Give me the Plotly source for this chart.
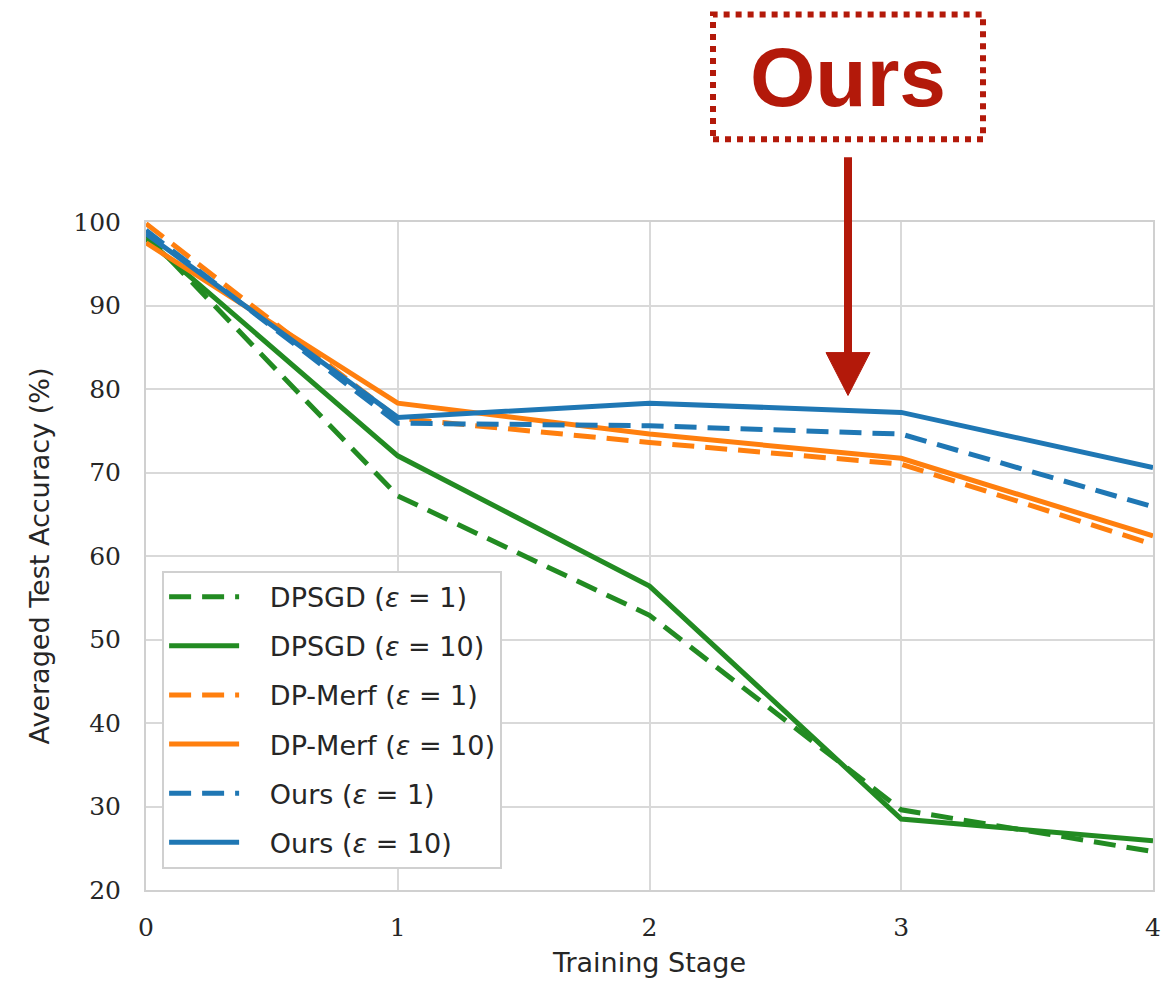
import plotly.graph_objects as go

stages = [0, 1, 2, 3, 4]
dpsgd_e1 = [98.5, 67.2, 52.9, 29.6, 24.6]
dpsgd_e10 = [98.0, 72.0, 56.4, 28.5, 25.9]
merf_e1 = [99.8, 76.5, 73.6, 71.0, 61.4]
merf_e10 = [97.5, 78.3, 74.6, 71.7, 62.4]
ours_e1 = [99.0, 75.9, 75.6, 74.6, 65.9]
ours_e10 = [98.6, 76.6, 78.3, 77.2, 70.6]

pad = "&nbsp;&nbsp;&nbsp;"
series = [
    (pad + "DPSGD (<i>ε</i> = 1)", dpsgd_e1, "#228b22", "22px,11px"),
    (pad + "DPSGD (<i>ε</i> = 10)", dpsgd_e10, "#228b22", "solid"),
    (pad + "DP-Merf (<i>ε</i> = 1)", merf_e1, "#ff7f0e", "22px,11px"),
    (pad + "DP-Merf (<i>ε</i> = 10)", merf_e10, "#ff7f0e", "solid"),
    (pad + "Ours (<i>ε</i> = 1)", ours_e1, "#1f77b4", "22px,11px"),
    (pad + "Ours (<i>ε</i> = 10)", ours_e10, "#1f77b4", "solid"),
]

fig = go.Figure()
for i, (name, vals, color, dash) in enumerate(series):
    fig.add_trace(go.Scatter(
        x=stages, y=vals, mode="lines", name=name,
        line=dict(color=color, width=5, dash=dash),
        legendgroup=f"g{i}",
    ))

W, H = 1174, 985
L, R, T, B = 146, 21, 222, 93
pw, ph = W - L - R, H - T - B

def px(xp):
    return (xp - L) / pw

def py(yp):
    return (H - B - yp) / ph

red = "#b3190a"
shapes = [
    dict(type="rect", xref="paper", yref="paper",
         x0=px(713), x1=px(983), y0=py(139), y1=py(14),
         line=dict(color=red, width=6, dash="dot"), layer="above"),
    dict(type="line", xref="paper", yref="paper",
         x0=px(848), x1=px(848), y0=py(157), y1=py(356),
         line=dict(color=red, width=8), layer="above"),
    dict(type="path", xref="paper", yref="paper",
         path=f"M {px(826)} {py(353)} L {px(870)} {py(353)} L {px(848)} {py(396)} Z",
         fillcolor=red, line=dict(color=red, width=1), layer="above"),
]

fig.update_layout(
    width=W, height=H,
    margin=dict(l=L, r=R, t=T, b=B),
    paper_bgcolor="white", plot_bgcolor="white",
    showlegend=True,
    legend=dict(
        x=0.016, y=0.478, xanchor="left", yanchor="top",
        bgcolor="white", bordercolor="#d0d0d0", borderwidth=2,
        font=dict(family="DejaVu Sans", size=27, color="#262626"),
        tracegroupgap=11, itemwidth=70,
    ),
    shapes=shapes,
    annotations=[dict(
        xref="paper", yref="paper", x=px(848), y=py(77),
        text="<b>Ours</b>", showarrow=False,
        font=dict(family="Liberation Sans", size=84, color=red),
        xanchor="center", yanchor="middle",
    )],
    xaxis=dict(
        range=[0, 4], tickvals=[0, 1, 2, 3, 4],
        showgrid=True, gridcolor="#d9d9d9", gridwidth=2,
        showline=True, linecolor="#d0d0d0", linewidth=2, mirror=True,
        zeroline=False, ticks="", ticklabelstandoff=14,
        tickfont=dict(family="DejaVu Serif", size=25, color="#262626"),
        title=dict(text="Training Stage", standoff=12,
                   font=dict(family="DejaVu Sans", size=27, color="#262626")),
    ),
    yaxis=dict(
        range=[20, 100], tickvals=[20, 30, 40, 50, 60, 70, 80, 90, 100],
        showgrid=True, gridcolor="#d9d9d9", gridwidth=2,
        showline=True, linecolor="#d0d0d0", linewidth=2, mirror=True,
        zeroline=False, ticks="", ticklabelstandoff=18,
        tickfont=dict(family="DejaVu Serif", size=25, color="#262626"),
        title=dict(text="Averaged Test Accuracy (%)", standoff=16,
                   font=dict(family="DejaVu Sans", size=27, color="#262626")),
    ),
)

fig.write_html("out.html")
